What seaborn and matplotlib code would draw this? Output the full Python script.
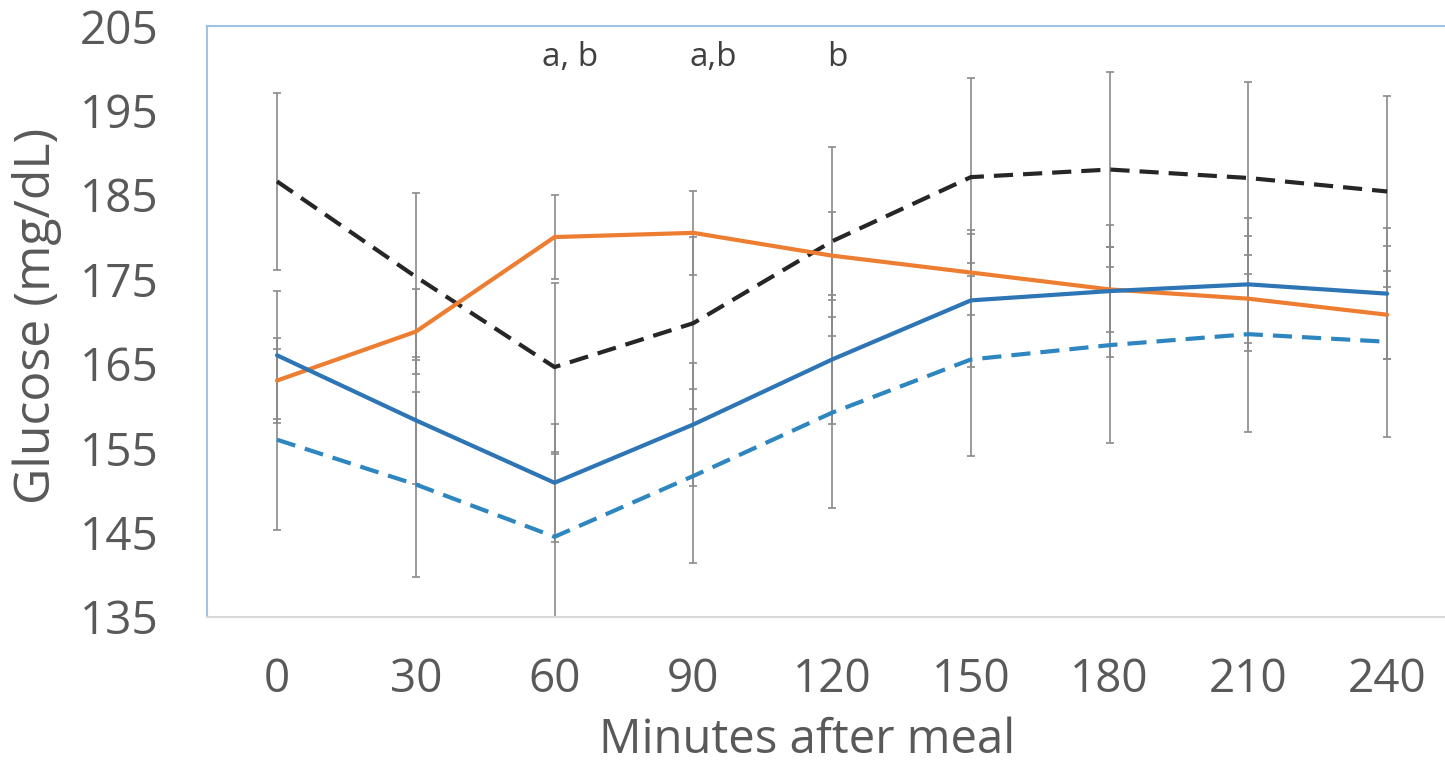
import numpy as np
import pandas as pd
import matplotlib
matplotlib.use("Agg")
import matplotlib.pyplot as plt
import seaborn as sns

# ---- data ----
minutes = [0, 30, 60, 90, 120, 150, 180, 210, 240]

black_dashed = [186.6, 175.3, 164.6, 169.8, 179.5, 187.1, 188.0, 187.0, 185.4]
black_dashed_err = [10.5, 9.9, 10.0, 10.2, 11.2, 11.7, 11.6, 11.4, 11.3]

orange_solid = [163.0, 168.8, 180.0, 180.5, 177.8, 175.8, 173.8, 172.7, 170.8]
orange_solid_err = [5.0, 5.0, 5.0, 5.0, 5.2, 5.0, 5.0, 5.2, 5.2]

blue_solid = [166.0, 158.3, 150.9, 157.8, 165.5, 172.5, 173.6, 174.4, 173.3]
blue_solid_err = [7.6, 7.5, 7.0, 7.3, 7.6, 7.9, 7.8, 7.9, 7.8]

blue_dashed = [156.0, 150.7, 144.5, 151.7, 159.2, 165.5, 167.2, 168.5, 167.6]
blue_dashed_err = [10.7, 11.0, 9.8, 10.3, 11.3, 11.4, 11.6, 11.6, 11.3]

y_ticks = [135, 145, 155, 165, 175, 185, 195, 205]
annotations = ["a, b", "a,b", "b"]
annotation_x = [63.4, 94.3, 121.1]
annotation_y = 201.3

x_label = "Minutes after meal"
y_label = "Glucose (mg/dL)"

# ---- style ----
sns.set_theme(style="white")
plt.rcParams["font.family"] = ["Open Sans", "DejaVu Sans"]

W, H = 1445, 766
fig = plt.figure(figsize=(W / 100, H / 100), dpi=100)
ax = fig.add_axes([207 / W, 1 - 617 / H, (W - 207) / W, (617 - 26) / H])

series = [
    (black_dashed, black_dashed_err, "#262626", (0, (4.6, 2.4))),
    (orange_solid, orange_solid_err, "#ED7D31", "-"),
    (blue_solid, blue_solid_err, "#2E75B6", "-"),
    (blue_dashed, blue_dashed_err, "#2E86C1", (0, (4.6, 2.4))),
]

# error bars behind lines
for vals, errs, col, ls in series:
    ax.errorbar(minutes, vals, yerr=errs, fmt="none", ecolor="#8a8a8a",
                elinewidth=1.2, capsize=3, capthick=1.2, zorder=1)

for vals, errs, col, ls in series:
    sns.lineplot(x=minutes, y=vals, color=col, linewidth=3.0, linestyle=ls,
                 ax=ax, zorder=3, errorbar=None)

for txt, xv in zip(annotations, annotation_x):
    ax.text(xv, annotation_y, txt, ha="center", va="center",
            fontsize=24, color="#404040")

ax.set_xlim(-15.13, 252.5)
ax.set_ylim(135, 205)
ax.set_xticks(minutes)
ax.set_xticklabels([str(m) for m in minutes])
ax.set_yticks(y_ticks)
ax.set_yticklabels([str(t) for t in y_ticks])
ax.tick_params(axis="both", length=0, labelsize=33, labelcolor="#595959")
ax.tick_params(axis="y", pad=35)
ax.tick_params(axis="x", pad=29)

ax.set_xlabel(x_label, fontsize=34, color="#595959")
ax.set_ylabel(y_label, fontsize=36, color="#595959")
ax.xaxis.set_label_coords(0.485, -0.168)
ax.yaxis.set_label_coords(-0.117, 0.51)

for side in ["left", "top"]:
    ax.spines[side].set_visible(True)
    ax.spines[side].set_color("#9DC3E6")
    ax.spines[side].set_linewidth(1.5)
ax.spines["bottom"].set_color("#d9d9d9")
ax.spines["bottom"].set_linewidth(1.5)
ax.spines["right"].set_visible(False)

fig.savefig("out.png", dpi=100)
